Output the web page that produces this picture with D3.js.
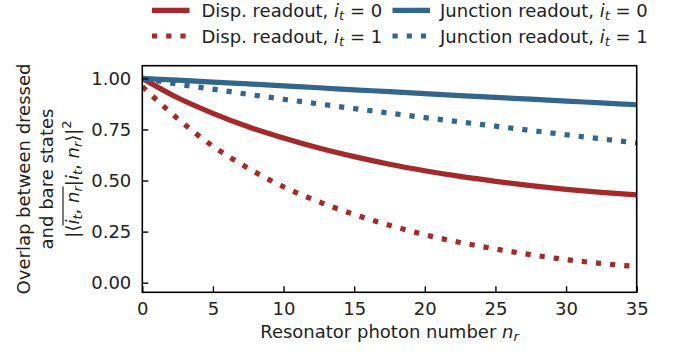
<!DOCTYPE html>
<html>
<head>
<meta charset="utf-8">
<script src="https://cdn.jsdelivr.net/npm/d3@7"></script>
<style>
  html, body { margin: 0; padding: 0; background: #fff; }
  svg { display: block; font-family: "DejaVu Sans", sans-serif; }
</style>
</head>
<body>
<svg id="chart" width="681" height="354"></svg>
<script>
// Photon number grid and overlap values for each readout scheme
const photonNumbers = [0, 2.5, 5, 7.5, 10, 12.5, 15, 17.5, 20, 22.5, 25, 27.5, 30, 32.5, 35];
const dispOverlap0 = [1.0, 0.905, 0.829, 0.763, 0.708, 0.659, 0.617, 0.580, 0.548, 0.520, 0.496, 0.475, 0.457, 0.442, 0.430];
const dispOverlap1 = [0.960, 0.803, 0.668, 0.560, 0.469, 0.396, 0.334, 0.281, 0.235, 0.197, 0.165, 0.137, 0.113, 0.094, 0.079];
const juncOverlap0 = [1.0, 0.991, 0.982, 0.973, 0.963, 0.954, 0.944, 0.935, 0.925, 0.916, 0.907, 0.898, 0.889, 0.880, 0.871];
const juncOverlap1 = [1.0, 0.972, 0.947, 0.922, 0.898, 0.875, 0.852, 0.830, 0.808, 0.787, 0.766, 0.745, 0.724, 0.704, 0.684];
const xTicks = [0, 5, 10, 15, 20, 25, 30, 35];
const yTicks = [0, 0.25, 0.5, 0.75, 1.0];

const RED = "#a3292b";
const BLUE = "#33668c";

const series = [
  { name: "Disp. readout", it: 0, values: dispOverlap0, color: RED, dotted: false },
  { name: "Disp. readout", it: 1, values: dispOverlap1, color: RED, dotted: true },
  { name: "Junction readout", it: 0, values: juncOverlap0, color: BLUE, dotted: false },
  { name: "Junction readout", it: 1, values: juncOverlap1, color: BLUE, dotted: true }
];

const svg = d3.select("#chart");
const plot = { left: 142.3, right: 636.7, top: 65.7, bottom: 292.3 };
const LW = 5.2;
const DOTS = "5.2,9";
const FS = 18;     // base font size
const SUB = 13;    // sub/superscript size

const x = d3.scaleLinear().domain([0, 35]).range([plot.left, plot.right]);
const y = d3.scaleLinear().domain([-0.047, 1.062]).range([plot.bottom, plot.top]);

svg.append("defs").append("clipPath").attr("id", "plotClip")
  .append("rect")
  .attr("x", plot.left).attr("y", plot.top)
  .attr("width", plot.right - plot.left).attr("height", plot.bottom - plot.top);

// Curves
const line = d3.line()
  .x(d => x(d[0]))
  .y(d => y(d[1]))
  .curve(d3.curveMonotoneX);

const curves = svg.append("g").attr("clip-path", "url(#plotClip)");
series.forEach(s => {
  curves.append("path")
    .datum(photonNumbers.map((n, i) => [n, s.values[i]]))
    .attr("d", line)
    .attr("fill", "none")
    .attr("stroke", s.color)
    .attr("stroke-width", LW)
    .attr("stroke-linecap", "butt")
    .attr("stroke-linejoin", "round")
    .attr("stroke-dasharray", s.dotted ? DOTS : null);
});

// Axes with inward ticks
const xAxis = d3.axisBottom(x).tickValues(xTicks).tickSizeInner(-6).tickSizeOuter(0).tickPadding(10)
  .tickFormat(d3.format("d"));
const yAxis = d3.axisLeft(y).tickValues(yTicks).tickSizeInner(-6).tickSizeOuter(0).tickPadding(11)
  .tickFormat(d3.format(".2f"));

const gx = svg.append("g").attr("transform", `translate(0,${plot.bottom})`).call(xAxis);
const gy = svg.append("g").attr("transform", `translate(${plot.left},0)`).call(yAxis);
[gx, gy].forEach(g => {
  g.select(".domain").remove();
  g.selectAll(".tick line").attr("stroke", "#000").attr("stroke-width", 1.4);
  g.selectAll(".tick text").attr("fill", "#222").attr("font-size", FS)
    .attr("font-family", "DejaVu Sans, sans-serif");
});

// Frame
svg.append("rect")
  .attr("x", plot.left).attr("y", plot.top)
  .attr("width", plot.right - plot.left).attr("height", plot.bottom - plot.top)
  .attr("fill", "none").attr("stroke", "#000").attr("stroke-width", 1.6);

// X axis label
const xl = svg.append("text")
  .attr("x", (plot.left + plot.right) / 2).attr("y", 338)
  .attr("text-anchor", "middle").attr("font-size", FS).attr("fill", "#222");
xl.append("tspan").text("Resonator photon number ");
xl.append("tspan").attr("font-style", "italic").text("n");
xl.append("tspan").attr("font-style", "italic").attr("font-size", SUB).attr("dy", 3).text("r");

// Y axis label (three stacked lines, rotated)
const yCenter = (plot.top + plot.bottom) / 2;
const yl = svg.append("g").attr("transform", `translate(0,${yCenter}) rotate(-90)`);
yl.append("text").attr("x", 0).attr("y", 30).attr("text-anchor", "middle")
  .attr("font-size", FS).attr("fill", "#222").text("Overlap between dressed");
yl.append("text").attr("x", 0).attr("y", 53).attr("text-anchor", "middle")
  .attr("font-size", FS).attr("fill", "#222").text("and bare states");

const f = yl.append("text").attr("x", 0).attr("y", 79).attr("text-anchor", "middle")
  .attr("font-size", FS).attr("fill", "#222");
f.append("tspan").text("|⟨");
const over = f.append("tspan");
over.append("tspan").attr("font-style", "italic").text("i");
over.append("tspan").attr("font-style", "italic").attr("font-size", SUB).attr("dy", 3).text("t");
over.append("tspan").attr("dy", -3).text(", ");
over.append("tspan").attr("font-style", "italic").text("n");
over.append("tspan").attr("font-style", "italic").attr("font-size", SUB).attr("dy", 3).text("r");
f.append("tspan").attr("dy", -3).text("|");
f.append("tspan").attr("font-style", "italic").text("i");
f.append("tspan").attr("font-style", "italic").attr("font-size", SUB).attr("dy", 3).text("t");
f.append("tspan").attr("dy", -3).text(", ");
f.append("tspan").attr("font-style", "italic").text("n");
f.append("tspan").attr("font-style", "italic").attr("font-size", SUB).attr("dy", 3).text("r");
f.append("tspan").attr("dy", -3).text("⟩|");
f.append("tspan").attr("font-size", SUB).attr("dy", -8).text("2");

// Overline spanning the bra's state label
const ob = over.node().getBBox();
yl.append("line")
  .attr("x1", ob.x - 1).attr("x2", ob.x + ob.width - 2)
  .attr("y1", ob.y + 1).attr("y2", ob.y + 1)
  .attr("stroke", "#222").attr("stroke-width", 1.2);

// Legend (two columns)
const legendCols = [{ line: 152, text: 201.5 }, { line: 392.5, text: 440 }];
const legendRows = [10.3, 36];
series.forEach((s, i) => {
  const col = legendCols[Math.floor(i / 2)], ly = legendRows[i % 2];
  const g = svg.append("g");
  g.append("line")
    .attr("x1", col.line).attr("x2", col.line + 37.5)
    .attr("y1", ly).attr("y2", ly)
    .attr("stroke", s.color).attr("stroke-width", LW)
    .attr("stroke-dasharray", s.dotted ? DOTS : null);
  const t = g.append("text").attr("x", col.text).attr("y", ly + 6.5)
    .attr("font-size", FS).attr("fill", "#222");
  t.append("tspan").text(s.name + ", ");
  t.append("tspan").attr("font-style", "italic").text("i");
  t.append("tspan").attr("font-style", "italic").attr("font-size", SUB).attr("dy", 3).text("t");
  t.append("tspan").attr("dy", -3).text(" = " + s.it);
});
</script>
</body>
</html>
